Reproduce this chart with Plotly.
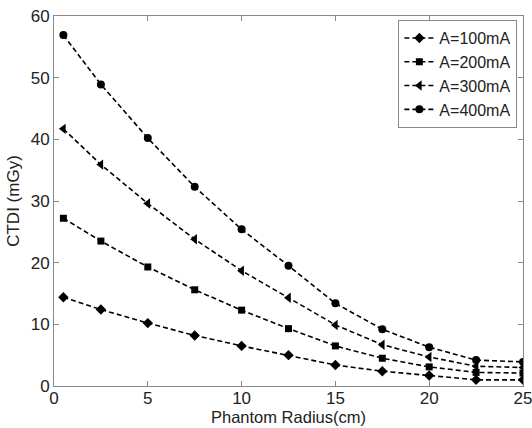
import plotly.graph_objects as go

radius = [0.5, 2.5, 5, 7.5, 10, 12.5, 15, 17.5, 20, 22.5, 25]
ctdi_100 = [14.4, 12.4, 10.2, 8.2, 6.5, 5.0, 3.4, 2.4, 1.7, 1.0, 1.0]
ctdi_200 = [27.2, 23.5, 19.3, 15.6, 12.3, 9.3, 6.5, 4.5, 3.1, 2.2, 2.1]
ctdi_300 = [41.7, 35.9, 29.6, 23.8, 18.7, 14.3, 9.9, 6.7, 4.7, 3.2, 3.0]
ctdi_400 = [56.9, 48.9, 40.2, 32.3, 25.4, 19.5, 13.4, 9.2, 6.3, 4.2, 3.9]
labels = ["A=100mA", "A=200mA", "A=300mA", "A=400mA"]
symbols = ["diamond", "square", "triangle-left", "circle"]
sizes = [8, 7, 9, 8]

FONT = "Liberation Sans"
TXT = "#222222"

fig = go.Figure()
for vals, name, sym, sz in zip([ctdi_100, ctdi_200, ctdi_300, ctdi_400], labels, symbols, sizes):
    fig.add_trace(go.Scatter(
        x=radius, y=vals, name=name, mode="lines+markers",
        line=dict(color="black", width=1.6, dash="5px,3px"),
        marker=dict(symbol=sym, size=sz, color="black"),
    ))

axis_common = dict(
    showline=True, linecolor="#888888", linewidth=1, mirror="ticks",
    ticks="inside", ticklen=5, tickcolor="#888888",
    showgrid=False, zeroline=False, automargin=False,
    ticklabeloverflow="allow",
    tickfont=dict(family=FONT, size=17, color=TXT),
)
fig.update_xaxes(range=[0, 25], tickvals=[0, 5, 10, 15, 20, 25],
                 ticklabelstandoff=-3,
                 title=dict(text="Phantom Radius(cm)", standoff=1,
                            font=dict(family=FONT, size=16.5, color=TXT)),
                 **axis_common)
fig.update_yaxes(range=[0, 60], tickvals=[0, 10, 20, 30, 40, 50, 60],
                 title=dict(text="CTDI (mGy)", standoff=6,
                            font=dict(family=FONT, size=17, color=TXT)),
                 **axis_common)

fig.update_layout(
    width=532, height=428,
    margin=dict(l=54, r=9, t=16, b=42),
    paper_bgcolor="white", plot_bgcolor="white",
    legend=dict(x=0.988, y=0.989, xanchor="right", yanchor="top",
                bordercolor="#888888", borderwidth=1, bgcolor="white",
                font=dict(family=FONT, size=16, color=TXT),
                itemwidth=30, tracegroupgap=0),
    showlegend=True,
)

fig.write_html("out.html")
